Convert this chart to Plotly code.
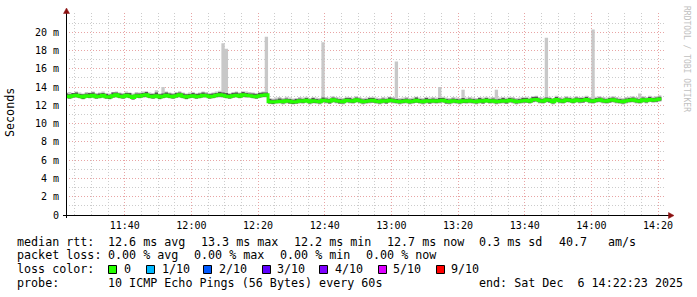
import plotly.graph_objects as go
import pandas as pd

# ---------------- data (milliseconds), one value per minute from 11:22 ----------------
start_time = "2025-12-06 11:22:00"
x_range = ["2025-12-06 11:22:23", "2025-12-06 14:22:23"]

median_ms = [
    13.0,12.95,13.05,13.1,13.0,12.9,13.05,13.0,13.1,12.95,
    13.0,13.1,12.95,12.9,13.05,13.15,13.0,12.95,13.1,13.0,
    12.85,13.05,13.0,13.1,13.15,13.0,12.95,13.05,12.9,13.0,
    13.1,13.0,12.95,13.05,13.15,13.0,12.9,13.0,13.05,12.95,
    13.0,13.1,13.05,12.95,13.0,13.1,13.15,13.1,13.0,12.95,
    13.05,13.1,13.0,13.15,13.1,13.05,13.0,12.95,13.05,13.1,13.15,
    12.4,12.35,12.4,12.45,12.4,12.5,12.45,12.35,12.4,12.5,
    12.45,12.55,12.4,12.5,12.45,12.4,12.55,12.5,12.45,12.6,
    12.5,12.45,12.4,12.55,12.5,12.45,12.6,12.5,12.4,12.45,
    12.5,12.55,12.45,12.4,12.5,12.45,12.55,12.5,12.45,12.4,
    12.45,12.5,12.4,12.45,12.55,12.45,12.4,12.5,12.45,12.5,
    12.45,12.5,12.55,12.45,12.4,12.5,12.45,12.4,12.5,12.45,
    12.5,12.45,12.4,12.5,12.45,12.55,12.45,12.5,12.4,12.45,
    12.5,12.45,12.55,12.5,12.4,12.45,12.5,12.55,12.45,12.6,
    12.65,12.5,12.45,12.6,12.55,12.4,12.65,12.5,12.45,12.6,
    12.55,12.45,12.6,12.5,12.55,12.65,12.5,12.45,12.55,12.6,
    12.5,12.45,12.55,12.6,12.5,12.45,12.4,12.5,12.55,12.6,
    12.5,12.45,12.6,12.5,12.65,12.55,12.6,12.7,
]

ping_max_ms = [
    13.4,13.45,13.35,13.5,13.4,13.3,13.45,13.4,13.5,13.35,
    13.4,13.5,13.35,13.3,13.45,13.5,13.4,13.35,13.5,13.4,
    13.3,13.45,13.4,13.5,13.55,13.4,13.35,13.65,13.3,14.0,
    13.5,13.4,13.35,13.45,13.55,13.4,13.3,13.4,13.45,13.35,
    13.4,13.5,13.45,13.35,13.4,13.5,13.6,18.8,18.2,13.35,
    13.45,13.5,13.4,13.55,13.5,13.45,13.4,13.35,13.45,13.5,19.5,
    12.8,12.75,12.85,12.9,12.8,12.95,12.85,12.75,12.8,12.9,
    12.85,12.95,12.8,12.9,12.85,12.8,18.9,12.9,12.85,13.0,
    12.9,12.85,12.8,12.95,12.9,12.85,13.0,12.9,12.8,12.85,
    12.9,12.95,12.85,12.8,12.9,12.85,12.95,12.9,16.8,12.8,
    12.85,12.9,12.8,12.85,12.95,12.85,12.8,12.9,12.85,12.9,
    12.85,14.0,12.95,12.85,12.8,12.9,12.85,12.8,13.7,12.85,
    12.9,12.85,12.8,12.9,12.85,12.95,12.85,12.9,13.7,12.85,
    12.9,12.85,12.95,12.9,12.8,12.85,12.9,12.95,12.85,13.0,
    13.05,12.9,12.85,19.4,12.95,12.8,13.05,12.9,12.85,13.0,
    12.95,12.85,13.0,12.9,12.95,13.05,12.9,20.3,12.95,13.0,
    12.9,12.85,12.95,13.0,12.9,12.85,12.8,12.9,12.95,13.0,
    12.9,13.3,13.0,12.9,13.05,12.95,13.0,13.1,
]

ping_min_ms = [
    12.75,12.7,12.8,12.8,12.75,12.65,12.8,12.75,12.8,12.7,
    12.75,12.8,12.7,12.65,12.8,12.85,12.75,12.7,12.8,12.75,
    12.6,12.8,12.75,12.8,12.85,12.75,12.7,12.8,12.65,12.75,
    12.8,12.75,12.7,12.8,12.85,12.75,12.65,12.75,12.8,12.7,
    12.75,12.8,12.8,12.7,12.75,12.8,12.85,12.8,12.75,12.7,
    12.8,12.85,12.75,12.85,12.8,12.8,12.75,12.7,12.8,12.85,12.85,
    12.15,12.1,12.15,12.2,12.1,12.2,12.15,12.1,12.15,12.2,
    12.15,12.25,12.1,12.2,12.15,12.1,12.25,12.2,12.15,12.3,
    12.2,12.15,12.1,12.25,12.2,12.15,12.3,12.2,12.1,12.15,
    12.2,12.25,12.15,12.1,12.2,12.15,12.25,12.2,12.15,12.1,
    12.15,12.2,12.1,12.15,12.25,12.15,12.1,12.2,12.15,12.2,
    12.15,12.2,12.25,12.15,12.1,12.2,12.15,12.1,12.2,12.15,
    12.2,12.15,12.1,12.2,12.15,12.25,12.15,12.2,12.1,12.15,
    12.2,12.15,12.25,12.2,12.1,12.15,12.2,12.25,12.15,12.3,
    12.35,12.2,12.15,12.3,12.25,12.1,12.35,12.2,12.15,12.3,
    12.25,12.15,12.3,12.2,12.25,12.35,12.2,12.15,12.25,12.3,
    12.2,12.15,12.25,12.3,12.2,12.15,12.1,12.2,12.25,12.3,
    12.2,12.15,12.3,12.2,12.35,12.25,12.3,12.4,
]

upper_q_ms = [
    13.3,13.2,13.35,13.4,13.25,13.2,13.3,13.35,13.4,13.2,
    13.3,13.35,13.25,13.15,13.4,13.4,13.3,13.2,13.35,13.35,
    13.1,13.3,13.3,13.35,13.45,13.25,13.25,13.4,13.2,13.3,
    13.4,13.3,13.2,13.35,13.4,13.3,13.2,13.25,13.35,13.25,
    13.3,13.4,13.3,13.25,13.3,13.35,13.45,13.4,13.35,13.25,
    13.35,13.4,13.3,13.45,13.35,13.3,13.3,13.25,13.35,13.4,13.4,
    12.7,12.6,12.65,12.75,12.65,12.75,12.7,12.6,12.7,12.75,
    12.7,12.8,12.65,12.8,12.7,12.65,12.85,12.75,12.7,12.85,
    12.75,12.7,12.65,12.8,12.8,12.7,12.85,12.75,12.65,12.7,
    12.8,12.8,12.7,12.65,12.75,12.7,12.85,12.75,12.7,12.65,
    12.7,12.75,12.65,12.7,12.85,12.7,12.65,12.8,12.7,12.75,
    12.7,12.8,12.8,12.7,12.65,12.75,12.7,12.65,12.8,12.7,
    12.75,12.7,12.65,12.8,12.7,12.8,12.7,12.75,12.65,12.7,
    12.8,12.7,12.8,12.75,12.65,12.7,12.8,12.8,12.7,12.9,
    12.95,12.75,12.7,12.85,12.8,12.65,12.9,12.75,12.7,12.85,
    12.8,12.7,12.85,12.8,12.8,12.9,12.75,12.7,12.8,12.85,
    12.75,12.7,12.8,12.85,12.75,12.7,12.65,12.75,12.8,12.85,
    12.75,12.7,12.85,12.75,12.9,12.8,12.85,12.95,
]

lower_q_ms = [
    12.8,12.75,12.85,12.9,12.8,12.7,12.85,12.8,12.9,12.75,
    12.8,12.9,12.75,12.7,12.85,12.95,12.8,12.75,12.9,12.8,
    12.65,12.85,12.8,12.9,12.95,12.8,12.75,12.85,12.7,12.8,
    12.9,12.8,12.75,12.85,12.95,12.8,12.7,12.8,12.85,12.75,
    12.8,12.9,12.9,12.75,12.8,12.9,12.95,12.9,12.8,12.75,
    12.85,12.9,12.8,12.95,12.9,12.9,12.8,12.75,12.85,12.9,12.95,
    12.2,12.15,12.25,12.25,12.2,12.3,12.2,12.15,12.2,12.3,
    12.25,12.35,12.2,12.25,12.25,12.2,12.35,12.3,12.2,12.4,
    12.3,12.2,12.2,12.35,12.3,12.25,12.35,12.3,12.2,12.25,
    12.3,12.3,12.25,12.2,12.3,12.2,12.35,12.3,12.25,12.2,
    12.25,12.3,12.2,12.25,12.3,12.25,12.2,12.3,12.2,12.3,
    12.25,12.3,12.35,12.2,12.2,12.3,12.25,12.2,12.25,12.25,
    12.3,12.25,12.2,12.3,12.2,12.35,12.25,12.3,12.2,12.25,
    12.3,12.2,12.35,12.3,12.2,12.25,12.3,12.3,12.25,12.4,
    12.45,12.3,12.25,12.4,12.3,12.2,12.45,12.3,12.25,12.35,
    12.35,12.25,12.4,12.3,12.3,12.45,12.3,12.25,12.35,12.4,
    12.3,12.25,12.3,12.4,12.3,12.25,12.2,12.3,12.35,12.4,
    12.3,12.25,12.4,12.3,12.45,12.35,12.4,12.5,
]

y_tick_values = [0, 2, 4, 6, 8, 10, 12, 14, 16, 18, 20]
y_tick_labels = ["0", "2 m", "4 m", "6 m", "8 m", "10 m", "12 m", "14 m", "16 m", "18 m", "20 m"]

legend_rows = [
    [(16, "median rtt:"), (107, "12.6 ms avg"), (200, "13.3 ms max"), (293, "12.2 ms min"),
     (386, "12.7 ms now"), (478, "0.3 ms sd"), (558, "40.7"), (607, "am/s")],
    [(16, "packet loss:"), (107, "0.00 % avg"), (193, "0.00 % max"), (279, "0.00 % min"),
     (365, "0.00 % now")],
    [(16, "loss color:")],
    [(16, "probe:"), (107, "10 ICMP Echo Pings (56 Bytes) every 60s"),
     (478, "end: Sat Dec \u00a06 14:22:23 2025")],
]
loss_labels = ["0", "1/10", "2/10", "3/10", "4/10", "5/10", "9/10"]
loss_colors = ["#26ff00", "#00b8ff", "#0059ff", "#5e00ff", "#7e00ff", "#dd00ff", "#ff0000"]
loss_box_x = [108, 146, 203, 262, 319, 378, 436]
loss_text_x = [123, 161, 218, 276, 334, 392, 450]
row_y = [241.7, 255.0, 269.3, 283.3]

# ---------------- geometry ----------------
W, H = 697, 297
ML, MR, MT, MB = 66, 31, 13, 82
PW, PH = W - ML - MR, H - MT - MB


def px(x):
    return (x - ML) / PW


def py(y):
    return (MT + PH - y) / PH


n = len(median_ms)
times = pd.date_range(start_time, periods=n + 1, freq="min")


def ext(a):
    return list(a) + [a[-1]]


fig = go.Figure()


def band(lo, hi, color):
    fig.add_trace(go.Scatter(x=times, y=ext(lo), mode="lines", line=dict(width=0, shape="hv"),
                             hoverinfo="skip", showlegend=False))
    fig.add_trace(go.Scatter(x=times, y=ext(hi), mode="lines", line=dict(width=0, shape="hv"),
                             fill="tonexty", fillcolor=color, hoverinfo="skip", showlegend=False))


band(ping_min_ms, ping_max_ms, "#c8c8c8")
band(lower_q_ms, upper_q_ms, "#555555")
fig.add_trace(go.Scatter(x=times, y=ext(median_ms), mode="lines",
                         line=dict(color="#26ff00", width=3, shape="hv"), showlegend=False))

mono = "DejaVu Sans Mono"
grid_major = "#e8a4a4"
grid_minor = "#cccccc"
dash = "1px,2px"

fig.update_xaxes(
    type="date", range=x_range, tick0="2025-12-06 11:40:00", dtick=20 * 60 * 1000,
    tickformat="%H:%M", showgrid=True, gridcolor=grid_major, griddash=dash, gridwidth=1,
    minor=dict(dtick=5 * 60 * 1000, tick0="2025-12-06 11:40:00", showgrid=True,
               gridcolor=grid_minor, griddash=dash, gridwidth=1),
    showline=False, zeroline=False, ticks="", ticklabelstandoff=3,
    tickfont=dict(family=mono, size=10, color="#000"),
)
fig.update_yaxes(
    range=[0, 22.1], tickvals=y_tick_values, ticktext=y_tick_labels,
    showgrid=True, gridcolor=grid_major, griddash=dash, gridwidth=1,
    minor=dict(dtick=1, showgrid=True, gridcolor=grid_minor, griddash=dash, gridwidth=1),
    showline=False, zeroline=False, ticks="", ticklabelstandoff=6,
    tickfont=dict(family=mono, size=10, color="#000"),
)

shapes = []
# axes
shapes.append(dict(type="line", xref="paper", yref="paper", x0=px(66.5), x1=px(66.5),
                   y0=py(218), y1=py(12), line=dict(color="#000", width=1)))
shapes.append(dict(type="line", xref="paper", yref="paper", x0=px(63), x1=px(669),
                   y0=py(215.5), y1=py(215.5), line=dict(color="#000", width=1)))
# arrows
shapes.append(dict(type="path", xref="paper", yref="paper",
                   path=f"M {px(66.5)},{py(8)} L {px(63.5)},{py(13.5)} L {px(69.5)},{py(13.5)} Z",
                   fillcolor="#8b1010", line=dict(color="#8b1010", width=0.5)))
shapes.append(dict(type="path", xref="paper", yref="paper",
                   path=f"M {px(674)},{py(215.5)} L {px(668.5)},{py(212.5)} L {px(668.5)},{py(218.5)} Z",
                   fillcolor="#8b1010", line=dict(color="#8b1010", width=0.5)))
# loss color boxes
for bx, col in zip(loss_box_x, loss_colors):
    shapes.append(dict(type="rect", xref="paper", yref="paper", x0=px(bx + 0.5), x1=px(bx + 8.5),
                       y0=py(273.5), y1=py(265.5), fillcolor=col, line=dict(color="#000", width=1)))

annotations = []
for ry, row in zip(row_y, legend_rows):
    for tx, txt in row:
        annotations.append(dict(x=px(tx), y=py(ry), xref="paper", yref="paper", text=txt,
                                showarrow=False, xanchor="left", yanchor="middle", borderpad=0,
                                font=dict(family=mono, size=11.7, color="#000")))
for tx, txt in zip(loss_text_x, loss_labels):
    annotations.append(dict(x=px(tx), y=py(row_y[2]), xref="paper", yref="paper", text=txt,
                            showarrow=False, xanchor="left", yanchor="middle", borderpad=0,
                            font=dict(family=mono, size=11.7, color="#000")))
annotations.append(dict(x=px(10), y=py(113), xref="paper", yref="paper", text="Seconds",
                        showarrow=False, textangle=-90, xanchor="center", yanchor="middle",
                        font=dict(family=mono, size=11.7, color="#000")))
annotations.append(dict(x=px(686), y=py(59), xref="paper", yref="paper",
                        text="RRDTOOL / TOBI OETIKER", showarrow=False, textangle=90,
                        xanchor="center", yanchor="middle",
                        font=dict(family=mono, size=8, color="#c0c0c0")))

fig.update_layout(
    width=W, height=H, margin=dict(l=ML, r=MR, t=MT, b=MB, pad=0),
    paper_bgcolor="#ffffff", plot_bgcolor="#ffffff", showlegend=False,
    shapes=shapes, annotations=annotations,
)

fig.write_html("out.html")
